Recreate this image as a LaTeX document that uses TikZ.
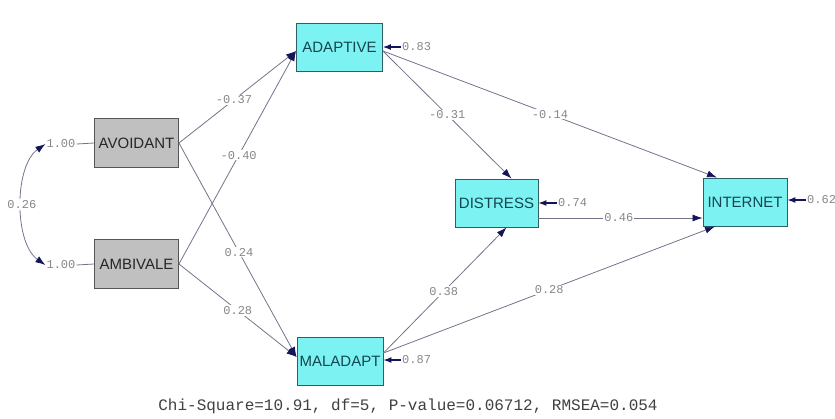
\documentclass[tikz,border=0pt]{standalone}
\usepackage{fontspec}
\setmainfont{Liberation Sans}
\newfontfamily\lblmono{Liberation Mono}
\usetikzlibrary{arrows.meta}
\definecolor{boxcyan}{RGB}{124,242,242}
\definecolor{cyanborder}{RGB}{45,95,100}
\definecolor{boxgrey}{RGB}{192,192,192}
\definecolor{greyborder}{RGB}{85,85,85}
\definecolor{linecol}{RGB}{115,115,140}
\definecolor{tipcol}{RGB}{20,20,90}
\definecolor{labcol}{RGB}{135,135,135}
\definecolor{cyantext}{RGB}{20,70,80}
\tikzset{
  endo/.style={draw=cyanborder, fill=boxcyan, line width=0.9pt, minimum width=86pt,
    minimum height=48pt, inner sep=0pt, font=\fontsize{15}{16}\selectfont, text=cyantext},
  exo/.style={draw=greyborder, fill=boxgrey, line width=0.9pt, minimum width=84pt,
    minimum height=49pt, inner sep=0pt, font=\fontsize{15}{16}\selectfont, text=black!85},
  pathline/.style={draw=linecol, line width=0.8pt, -{Latex[length=10pt,width=7pt,color=tipcol]}},
  errarr/.style={draw=tipcol, line width=1.1pt, -{Latex[length=8pt,width=6pt,color=tipcol]}},
  covar/.style={draw=linecol, line width=0.8pt,
    {Latex[length=10pt,width=7pt,color=tipcol]}-{Latex[length=10pt,width=7pt,color=tipcol]}},
  lab/.style={fill=white, inner sep=1pt, font=\lblmono\fontsize{12}{12}\selectfont, text=labcol},
  errlab/.style={inner sep=1pt, anchor=west, font=\lblmono\fontsize{12}{12}\selectfont, text=labcol},
}
\begin{document}
\begin{tikzpicture}[x=1pt,y=-1pt]
\useasboundingbox (0,0) rectangle (835,418);
% boxes
\node[exo]  (AV) at (136.5,143) {AVOIDANT};
\node[exo]  (AM) at (136.5,264) {AMBIVALE};
\node[endo] (AD) at (339.5,47)  {ADAPTIVE};
\node[endo, minimum width=83pt] (DI) at (496.5,203) {DISTRESS};
\node[endo, minimum width=84pt] (IN) at (745,202)   {INTERNET};
\node[endo] (MA) at (340,361)   {MALADAPT};
% variances of exogenous variables
\node[lab, fill=none] (vAV) at (61,144) {1.00};
\node[lab, fill=none] (vAM) at (61,265) {1.00};
\draw[linecol, line width=0.8pt] (vAV.east) -- (AV.west);
\draw[linecol, line width=0.8pt] (vAM.east) -- (AM.west);
\draw[covar] (vAV.west) .. controls (14,166) and (14,243) .. (vAM.west)
  node[lab, pos=0.5] (cov) {0.26};
% structural paths
\draw[pathline] (AV.east) -- ([yshift=-4pt]AD.west) node[lab, pos=0.47] (p1) {-0.37};
\draw[pathline] (AM.east) -- ([yshift=-4pt]AD.west) node[lab, pos=0.51] (p2) {-0.40};
\draw[pathline] (AV.east) -- ([yshift=4pt]MA.west) node[lab, pos=0.51] (p3) {0.24};
\draw[pathline] (AM.east) -- ([yshift=4pt]MA.west) node[lab, pos=0.50] (p4) {0.28};
\draw[pathline] ([yshift=-4pt]AD.east) -- ([xshift=15pt]DI.north) node[lab, pos=0.50] (p5) {-0.31};
\draw[pathline] ([yshift=-4pt]AD.east) -- ([xshift=-28pt]IN.north) node[lab, pos=0.50] (p6) {-0.14};
\draw[pathline] ([yshift=-15pt]DI.east) -- ([yshift=-16pt]IN.west) node[lab, pos=0.49] (p7) {0.46};
\draw[pathline] ([yshift=8pt]MA.east) -- ([xshift=10pt]DI.south) node[lab, pos=0.49] (p8) {0.38};
\draw[pathline] ([yshift=8pt]MA.east) -- ([xshift=-30pt]IN.south) node[lab, pos=0.50] (p9) {0.28};
% error variances
\node[errlab] (eAD) at (401,47)  {0.83};
\node[errlab] (eDI) at (557,203) {0.74};
\node[errlab] (eIN) at (806,200) {0.62};
\node[errlab] (eMA) at (401,360) {0.87};
\draw[errarr] (eAD.west) -- (eAD.west -| AD.east);
\draw[errarr] (eDI.west) -- (eDI.west -| DI.east);
\draw[errarr] (eIN.west) -- (eIN.west -| IN.east);
\draw[errarr] (eMA.west) -- (eMA.west -| MA.east);
% fit statistics
\node[font=\lblmono\fontsize{16}{16}\selectfont, text=black!75, inner sep=0pt] (fit) at (408,406)
  {Chi-Square=10.91, df=5, P-value=0.06712, RMSEA=0.054};
\end{tikzpicture}
\end{document}
